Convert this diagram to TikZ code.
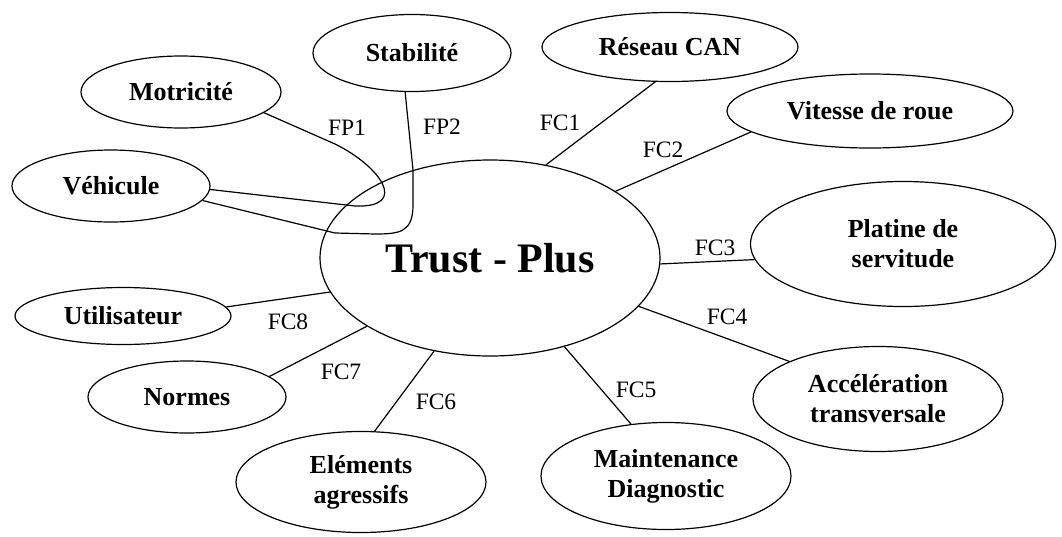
\documentclass[tikz,border=0pt]{standalone}
\usepackage{fontspec}
\setmainfont{Liberation Serif}
\usetikzlibrary{shapes.geometric}

\begin{document}
\begin{tikzpicture}[x=1pt,y=-1pt,
  bloc/.style={ellipse,draw,line width=1.2pt,inner sep=0pt,align=center,
    font=\rmfamily\bfseries\fontsize{26}{30}\selectfont},
  lien/.style={line width=1.2pt},
  etiq/.style={inner sep=0pt,font=\rmfamily\fontsize{23.5}{26}\selectfont}]
\useasboundingbox (0,0) rectangle (1062,536);

\node[bloc,minimum width=340pt,minimum height=196pt,
  font=\rmfamily\bfseries\fontsize{42}{44}\selectfont] (trust) at (490,258) {Trust - Plus};

\node[bloc,minimum width=198pt,minimum height=77pt] (stabilite) at (412,53) {Stabilité};
\node[bloc,minimum width=200pt,minimum height=72pt] (motricite) at (181,92) {Motricité};
\node[bloc,minimum width=198pt,minimum height=72pt] (vehicule) at (111,186) {Véhicule};
\node[bloc,minimum width=256pt,minimum height=69pt] (reseau) at (670,47) {Réseau CAN};
\node[bloc,minimum width=286pt,minimum height=74pt] (vitesse) at (870,111) {Vitesse de roue};
\node[bloc,minimum width=305pt,minimum height=125pt] (platine) at (903,244) {Platine de\\servitude};
\node[bloc,minimum width=250pt,minimum height=105pt] (acceleration) at (878,399) {Accélération\\transversale};
\node[bloc,minimum width=250pt,minimum height=107pt] (maintenance) at (666,476) {Maintenance\\Diagnostic};
\node[bloc,minimum width=250pt,minimum height=101pt] (elements) at (361,482) {Eléments\\agressifs};
\node[bloc,minimum width=198pt,minimum height=72pt] (normes) at (187,397) {Normes};
\node[bloc,minimum width=216pt,minimum height=57pt] (utilisateur) at (123,316) {Utilisateur};

\draw[lien] (motricite.-14) -- (335,144) .. controls (380,166) and (410,208) .. (355,206)
  -- (vehicule.-2);
\draw[lien] (stabilite.260) -- (413,170) -- (413,205) .. controls (413,232) and (400,234) .. (375,234)
  -- (335,233) -- (vehicule.-9);

\draw[lien] (trust.59) -- (reseau.247);
\draw[lien] (trust.28) -- (vitesse.190);
\draw[lien] (trust.-2) -- (platine.186);
\draw[lien] (trust.-18) -- (acceleration.157);
\draw[lien] (trust.-50) -- (maintenance.124);
\draw[lien] (trust.239) -- (elements.75);
\draw[lien] (trust.209) -- (normes.14);
\draw[lien] (trust.192) -- (utilisateur.5);

\node[etiq] (fp1) at (347,128) {FP1};
\node[etiq] (fp2) at (442,127) {FP2};
\node[etiq] (fc1) at (560,123) {FC1};
\node[etiq] (fc2) at (663,150) {FC2};
\node[etiq] (fc3) at (715,248) {FC3};
\node[etiq] (fc4) at (727,317) {FC4};
\node[etiq] (fc5) at (636,390) {FC5};
\node[etiq] (fc6) at (436,402) {FC6};
\node[etiq] (fc7) at (341,372) {FC7};
\node[etiq] (fc8) at (288,322) {FC8};

\end{tikzpicture}
\end{document}
